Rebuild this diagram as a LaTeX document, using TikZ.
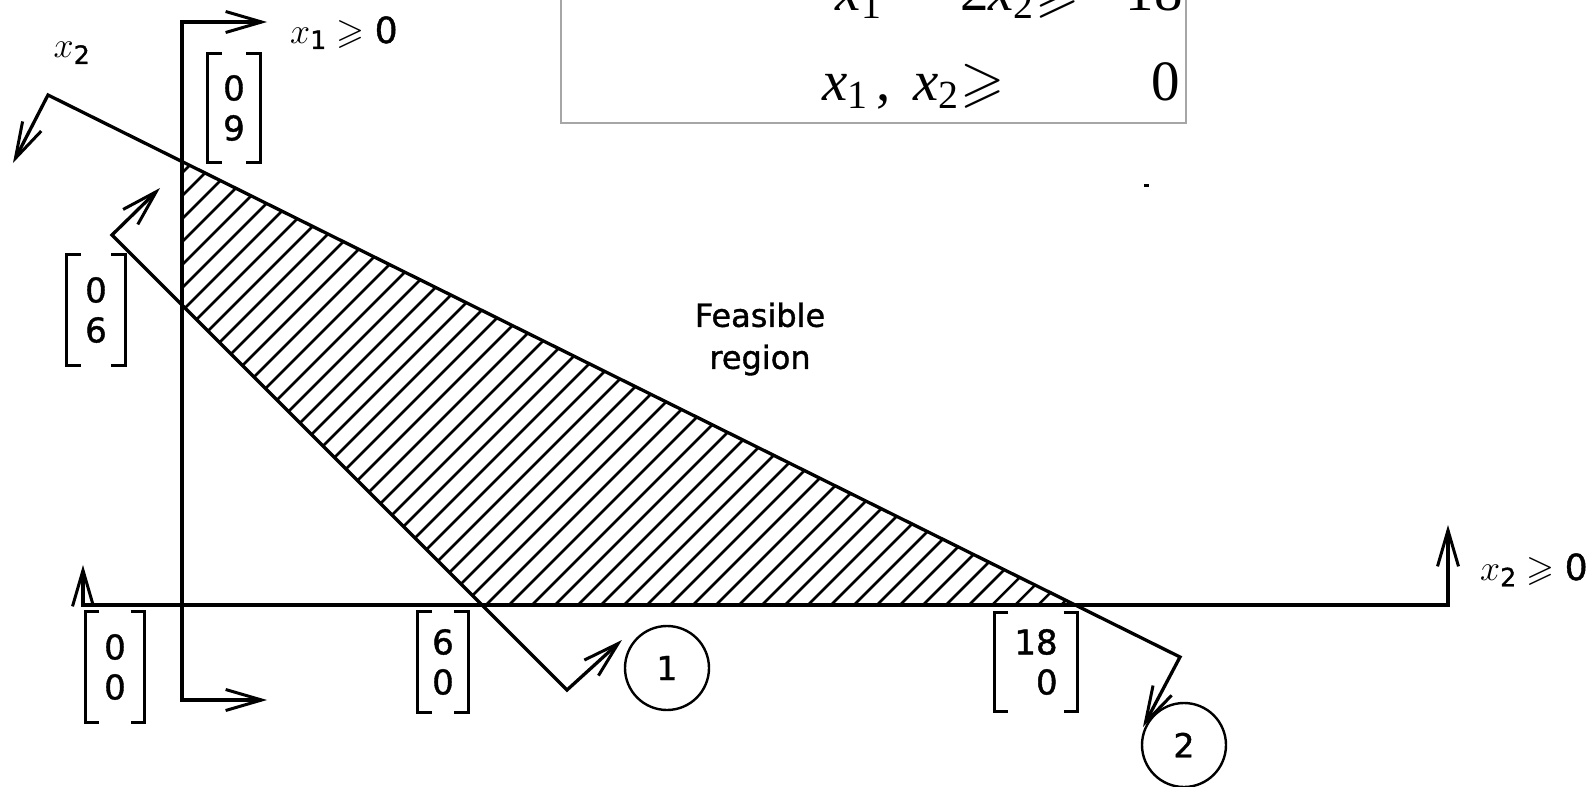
\documentclass[tikz,border=0pt]{standalone}
\usepackage{fix-cm}
\usepackage{amsmath,amssymb}
\usepackage{fontspec}
\newfontfamily\djv[FakeBold=1.2]{DejaVu Sans}
\newfontfamily\tms{Liberation Serif}
\usetikzlibrary{arrows.meta}
\tikzset{
  ln/.style={line width=3.3pt, line join=miter, line cap=round},
  dbl/.style={ln, {Straight Barb[length=36pt,width=21pt,line width=3pt]}-{Straight Barb[length=36pt,width=21pt,line width=3pt]}},
  hatch/.style={line width=2.5pt},
  circ/.style={circle, draw, line width=2.4pt, minimum size=84pt, inner sep=0pt, font=\djv\fontsize{33}{36}\selectfont},
  vec/.style={align=center, inner sep=0pt, font=\djv\fontsize{34}{40}\selectfont},
  brkl/.style={line width=2.8pt},
  lab/.style={inner sep=0pt, font=\djv\fontsize{36}{40}\selectfont},
  feas/.style={align=center, inner sep=0pt, font=\djv\fontsize{32}{42}\selectfont},
  eqn/.style={inner sep=0pt, font=\tms\fontsize{57}{60}\selectfont},
  boxl/.style={line width=1.5pt, draw=black!35}
}
\newcommand\brk[1]{%
  \draw[brkl] ([xshift=14pt]#1.north west) -- (#1.north west) -- (#1.south west) -- ++(14pt,0);
  \draw[brkl] ([xshift=-14pt]#1.north east) -- (#1.north east) -- (#1.south east) -- ++(-14pt,0);}
\begin{document}
\begin{tikzpicture}[x=1pt,y=-1pt]
\useasboundingbox (0,0) rectangle (1596,787);
% key points
\coordinate (a1t) at (267,22); \coordinate (a1c) at (182,22);
\coordinate (a1d) at (182,700); \coordinate (a1b) at (267,700);
\coordinate (a2l) at (83,565); \coordinate (a2lc) at (83,605);
\coordinate (a2rc) at (1448,605); \coordinate (a2r) at (1448,525);
\coordinate (l2a) at (13,163); \coordinate (l2b) at (48,95);
\coordinate (l2c) at (1180,657); \coordinate (l2d) at (1143,727);
\coordinate (l1a) at (160,188); \coordinate (l1b) at (112,235);
\coordinate (l1c) at (567,690); \coordinate (l1d) at (622,640);
\coordinate (P09) at (182,161); \coordinate (P06) at (182,305);
\coordinate (P60) at (482,605); \coordinate (P180) at (1078,605);
% hatching
\begin{scope}
\clip (P09) -- (P180) -- (P60) -- (P06) -- cycle;
\foreach \i in {0,...,61} \draw[hatch] (-311+\i*23,620) -- ++(560,-560);
\end{scope}
% axes and constraint lines
\draw[dbl] (a1t) -- (a1c) -- (a1d) -- (a1b);
\draw[dbl] (a2l) -- (a2lc) -- (a2rc) -- (a2r);
\draw[dbl] (l2a) -- (l2b) -- (l2c) -- (l2d);
\draw[dbl] (l1a) -- (l1b) -- (l1c) -- (l1d);
% circles
\node[circ] (c1) at (667,668) {1};
\node[circ] (c2) at (1184,745) {2};
% vectors
\node[vec, minimum width=52pt, minimum height=109pt] (m09) at (234,108) {0\\9};
\node[vec, minimum width=58pt, minimum height=110pt] (m06) at (96,310) {0\\6};
\node[vec, minimum width=59pt, minimum height=110pt] (m00) at (115,667) {0\\0};
\node[vec, minimum width=50pt, minimum height=100pt] (m60) at (443,662) {6\\0};
\node[vec, align=right, minimum width=83pt, minimum height=99pt] (m180) at (1036,662) {18\\0};
\brk{m09}\brk{m06}\brk{m00}\brk{m60}\brk{m180}
% labels
\node[lab, anchor=base west] (lx1) at (290,43) {$x_{\text{1}}\geqslant\text{0}$};
\node[lab, anchor=base west] (lx2) at (1480,580) {$x_{\text{2}}\geqslant\text{0}$};
\node[lab] (x2lab) at (72,53) {$x_{\text{2}}$};
\node[feas] (fr) at (760,339) {Feasible\\region};
% constraint box
\draw[boxl] (561,-20) rectangle (1186,123);
\node[eqn, anchor=base east] (e1l) at (1080,10) {$-$\textit{x}\textsubscript{1}\hspace{0.3em}$-$\hspace{0.3em}2\textit{x}\textsubscript{2}\hspace{0.02em}$\geqslant$};
\node[eqn, anchor=base east] (e1r) at (1183,10) {$-$18};
\node[eqn, anchor=base east] (e2l) at (1005,100) {\textit{x}\textsubscript{1}\hspace{0.15em},\hspace{0.4em}\textit{x}\textsubscript{2}\hspace{0.02em}$\geqslant$};
\node[eqn, anchor=base east] (e2r) at (1180,100) {0};
% speck
\fill (1144,184) rectangle (1149,187);
\end{tikzpicture}
\end{document}
